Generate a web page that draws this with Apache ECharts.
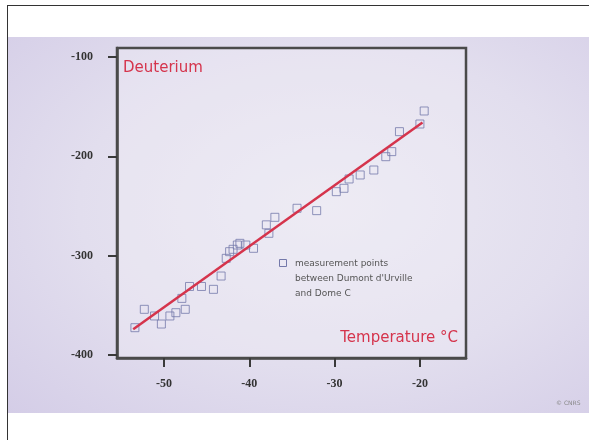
<!DOCTYPE html>
<html>
<head>
<meta charset="utf-8">
<script src="https://cdn.jsdelivr.net/npm/echarts@6/dist/echarts.min.js"></script>
<style>
  html, body { margin: 0; padding: 0; background: #fff; overflow: hidden; width: 589px; height: 440px; }
  #frame { position: absolute; left: 7px; top: 5px; width: 640px; height: 480px; border: 1.5px solid #333; box-sizing: border-box; background: #fff; }
  #slide { position: absolute; left: 8px; top: 37px; width: 581px; height: 376px;
           background: radial-gradient(ellipse at 55% 45%, #eceaf3 0%, #e2deee 55%, #d4cde7 100%); }
  #chart { position: absolute; left: 0; top: 0; width: 589px; height: 440px; }
</style>
</head>
<body>
<div id="frame"></div>
<div id="slide"></div>
<div id="chart"></div>
<script>
// Measurement points: temperature (°C), deuterium (‰)
const temperature = [-53.4, -52.3, -51.1, -50.3, -49.3, -48.6, -47.5, -47.9, -47.0, -45.6, -44.2, -43.3,
  -42.7, -42.3, -41.9, -41.4, -41.1, -40.4, -39.5, -38.0, -37.7, -37.0, -34.4, -32.1,
  -29.8, -28.9, -28.3, -27.0, -25.4, -24.0, -23.3, -22.4, -20.0, -19.5];
const deuterium = [-372.5, -354, -360.7, -368.8, -360.7, -357.4, -354, -343, -331, -331, -333.9, -320.5,
  -302.7, -296, -293.6, -289.3, -287.6, -289.3, -292.6, -269, -277.5, -261.4, -252.3, -254.7,
  -235.6, -232.2, -222.8, -218.8, -213.8, -200.4, -195.3, -175.2, -167.5, -154.4];
// Regression line endpoints
const fitX = [-53.6, -19.7];
const fitY = [-374, -166];
// Tick labels
const xTicks = [-50, -40, -30, -20];
const yTicks = [-100, -200, -300, -400];

const titleY = 'Deuterium';
const titleX = 'Temperature °C';
const legendLines = ['measurement points', "between Dumont d'Urville", 'and Dome C'];
const credit = '© CNRS';

const red = '#d5344c';
const tickFont = { fontFamily: 'Liberation Serif', fontWeight: 'bold', fontSize: 12, color: '#333' };

const chart = echarts.init(document.getElementById('chart'), null, { renderer: 'canvas' });
chart.setOption({
  animation: false,
  backgroundColor: 'transparent',
  grid: { left: 117, top: 48, right: 123, bottom: 82, show: true, borderColor: '#4a4a4a', borderWidth: 2.5, backgroundColor: 'rgba(240,238,246,0.35)' },
  xAxis: {
    type: 'value', min: -55.5, max: -14.6,
    splitLine: { show: false },
    axisLine: { show: true, onZero: false, lineStyle: { color: '#4a4a4a', width: 2.5 } },
    axisTick: { show: true, length: 9, lineStyle: { color: '#3a3a3a', width: 2 }, customValues: xTicks },
    axisLabel: Object.assign({ margin: 20, customValues: xTicks }, tickFont)
  },
  yAxis: {
    type: 'value', min: -403, max: -91,
    splitLine: { show: false },
    axisLine: { show: true, onZero: false, lineStyle: { color: '#4a4a4a', width: 2.5 } },
    axisTick: { show: true, length: 9, lineStyle: { color: '#3a3a3a', width: 2 }, customValues: yTicks },
    axisLabel: Object.assign({ margin: 24, customValues: yTicks }, tickFont)
  },
  series: [
    {
      type: 'scatter', name: 'points',
      data: temperature.map((t, i) => [t, deuterium[i]]),
      symbol: 'rect', symbolSize: 8,
      itemStyle: { color: 'rgba(0,0,0,0)', borderColor: '#7479aa', borderWidth: 1 },
      z: 3
    },
    {
      type: 'line', name: 'fit',
      data: fitX.map((x, i) => [x, fitY[i]]),
      showSymbol: false, symbol: 'none',
      lineStyle: { color: red, width: 2.5 },
      z: 4
    }
  ],
  graphic: [
    { type: 'text', left: 123, top: 61, style: { text: titleY, fill: red, font: '15px "DejaVu Sans"' } },
    { type: 'text', right: 131, top: 331, style: { text: titleX, fill: red, font: '15px "DejaVu Sans"' } },
    { type: 'rect', shape: { x: 279.5, y: 259.5, width: 7, height: 7 }, style: { fill: 'none', stroke: '#7479aa', lineWidth: 1 } },
    { type: 'text', x: 295, y: 256, style: { text: legendLines.join('\n'), fill: '#555', font: '9px "DejaVu Sans"', lineHeight: 15 } },
    { type: 'text', x: 556, y: 400, style: { text: credit, fill: '#888', font: '6px "DejaVu Sans"' } }
  ]
});
</script>
</body>
</html>
